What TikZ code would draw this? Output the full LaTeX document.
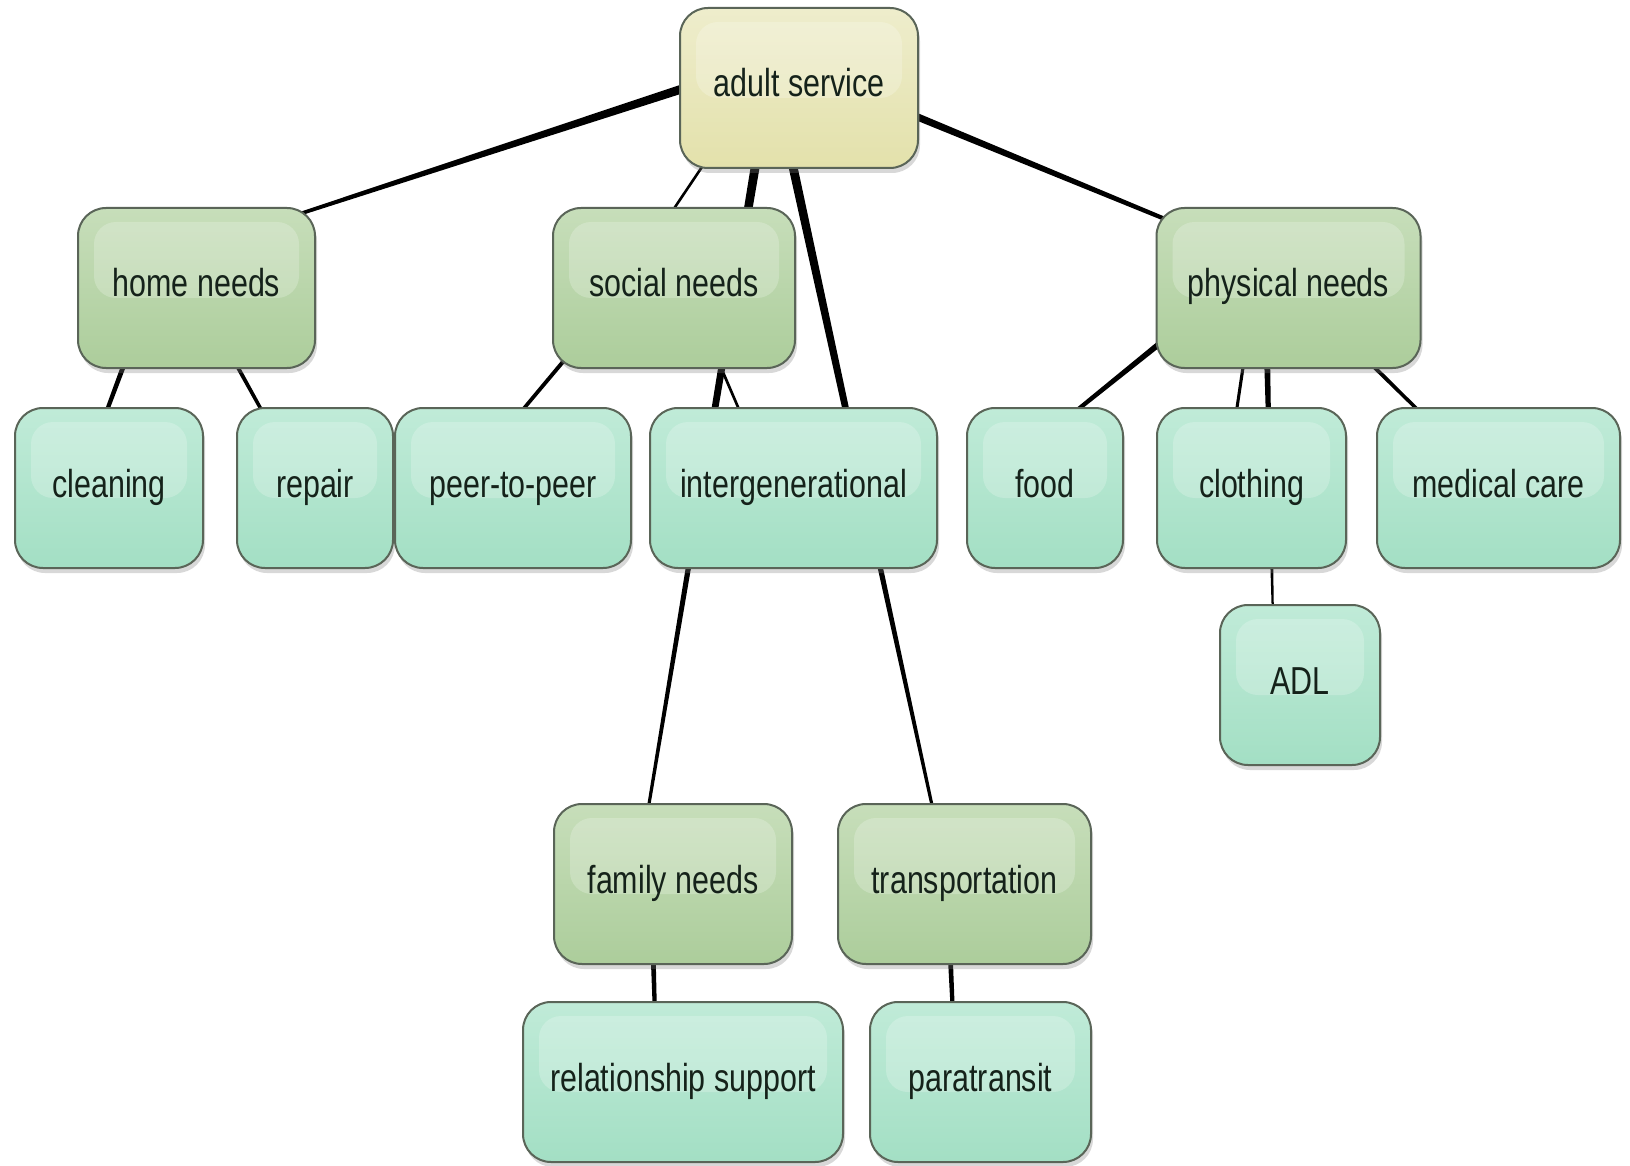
\documentclass[tikz,border=0pt]{standalone}
\usepackage{fontspec}
\setmainfont{Liberation Sans}[FakeStretch=0.78]
\usetikzlibrary{calc,shadows,backgrounds}
\definecolor{rootfill}{HTML}{E3E1AB}
\definecolor{roottop}{HTML}{EEEDCC}
\definecolor{catfill}{HTML}{ACCD9B}
\definecolor{cattop}{HTML}{C7DEBA}
\definecolor{leaffill}{HTML}{A3DFC4}
\definecolor{leaftop}{HTML}{C0EBD8}
\definecolor{edgegray}{HTML}{5A6558}
\definecolor{labeltext}{HTML}{15221A}
\tikzset{
  card/.style={draw=edgegray, line width=2pt, rounded corners=28pt, minimum height=160pt, inner sep=0pt, text height=28pt, text depth=10pt, align=center, text=labeltext, font=\fontsize{39}{44}\selectfont, drop shadow={shadow xshift=2pt, shadow yshift=-5pt, opacity=0.3},
    path picture={\fill[white, opacity=0.22, rounded corners=22pt] ($(path picture bounding box.north west)+(16,14)$) rectangle ($(path picture bounding box.east)+(-16,10)$);}},
  rootbox/.style={card, top color=roottop, bottom color=rootfill},
  catbox/.style={card, top color=cattop, bottom color=catfill},
  leafbox/.style={card, top color=leaftop, bottom color=leaffill}
}
% tapered link: from, to, half width at start, half width at end
\newcommand{\branch}[4]{%
  \path (#1) coordinate (bA) (#2) coordinate (bB);
  \fill[black] ($(bA)!#3!90:(bB)$) -- ($(bB)!#4!-90:(bA)$) -- ($(bB)!#4!90:(bA)$) -- ($(bA)!#3!-90:(bB)$) -- cycle;}

\begin{document}
\begin{tikzpicture}[x=1pt, y=-1pt]
\useasboundingbox (0,0) rectangle (1630,1166);
% top
\node[rootbox, minimum width=238pt] (adult) at (799,88) {adult service};
% second row
\node[catbox, minimum width=237pt] (home) at (196.5,288) {home needs};
\node[catbox, minimum width=242pt] (social) at (674,288) {social needs};
\node[catbox, minimum width=264pt] (physical) at (1288.5,288) {physical needs};
% third row
\node[leafbox, minimum width=188pt] (cleaning) at (109,488) {cleaning};
\node[leafbox, minimum width=156pt] (repair) at (315,488) {repair};
\node[leafbox, minimum width=236pt] (peer) at (513,488) {peer-to-peer};
\node[leafbox, minimum width=287pt] (intergen) at (793.5,488) {intergenerational};
\node[leafbox, minimum width=156pt] (food) at (1045,488) {food};
\node[leafbox, minimum width=189pt] (clothing) at (1251.5,488) {clothing};
\node[leafbox, minimum width=243pt] (medical) at (1498.5,488) {medical care};
\node[leafbox, minimum width=160pt] (adl) at (1300,685) {ADL};
% lower part
\node[catbox, minimum width=238pt] (family) at (673,884) {family needs};
\node[catbox, minimum width=253pt] (transport) at (964.5,884) {transportation};
\node[leafbox, minimum width=320pt] (relsupport) at (683,1082) {relationship support};
\node[leafbox, minimum width=221pt] (paratransit) at (980.5,1082) {paratransit};

\begin{scope}[on background layer]
\fill[white] (0,0) rectangle (1630,1166);
\branch{$(adult)+(-102,-4)$}{$(home)+(87.5,-69)$}{4.5pt}{1.7pt}
\branch{$(adult)+(-91,70)$}{$(social)+(-7,-69)$}{1.3pt}{1.3pt}
\branch{$(adult)+(-41.5,65)$}{$(family)+(-26.5,-65)$}{4.5pt}{1.5pt}
\branch{$(adult)+(-9,65)$}{$(transport)+(-29.5,-65)$}{4.5pt}{1.5pt}
\branch{$(adult)+(104,23)$}{$(physical)+(-111.5,-64)$}{3.7pt}{2pt}
\branch{$(home)+(-68.5,66)$}{$(cleaning)+(-6,-67)$}{2.5pt}{2pt}
\branch{$(home)+(34.5,67)$}{$(repair)+(-48,-68)$}{2pt}{1.7pt}
\branch{$(social)+(-102,63)$}{$(peer)+(2,-69)$}{2pt}{1.8pt}
\branch{$(social)+(42,68)$}{$(intergen)+(-49.5,-67)$}{1.4pt}{1.3pt}
\branch{$(physical)+(-119.5,48)$}{$(food)+(26,-73)$}{3pt}{2pt}
\branch{$(physical)+(-43.5,66)$}{$(clothing)+(-16.5,-67)$}{1.6pt}{1.5pt}
\branch{$(physical)+(-21.5,66)$}{$(adl)+(-27,-65)$}{3pt}{1pt}
\branch{$(physical)+(78.5,72)$}{$(medical)+(-75.5,-73)$}{2pt}{1.7pt}
\branch{$(family)+(-20,66)$}{$(relsupport)+(-28,-66)$}{2.5pt}{2pt}
\branch{$(transport)+(-14.5,66)$}{$(paratransit)+(-27.5,-66)$}{2.5pt}{2pt}
\end{scope}
\end{tikzpicture}
\end{document}
